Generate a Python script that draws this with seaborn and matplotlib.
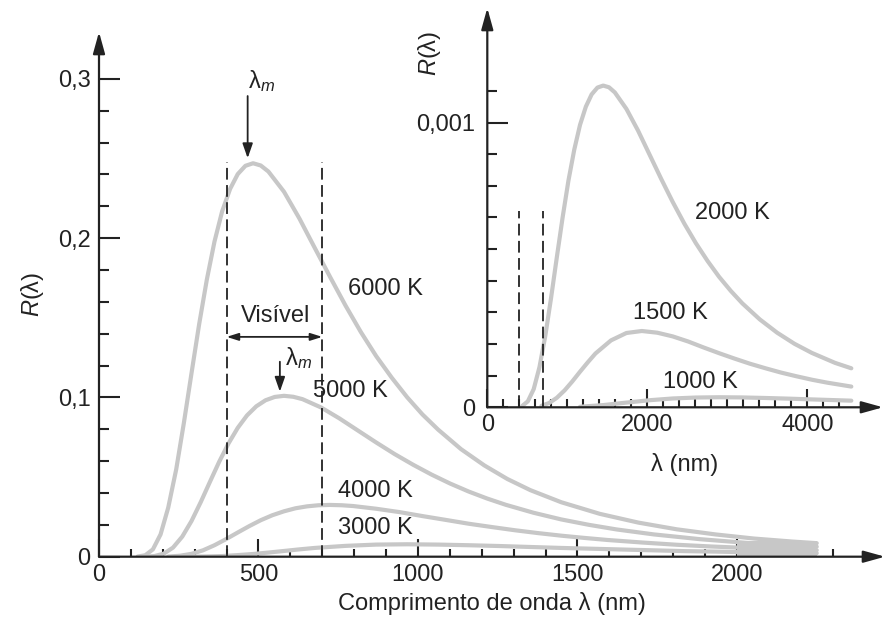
import numpy as np
import pandas as pd
import matplotlib
matplotlib.use("Agg")
import matplotlib.pyplot as plt
import seaborn as sns

# ---------------- data ----------------
# main panel (wavelength in nm, R in arbitrary units)
wl_6000 = [121, 145, 169, 193, 217, 242, 266, 290, 314, 338, 362, 386, 411, 435, 459, 483, 507, 531,
           580, 628, 676, 725, 773, 821, 869, 918, 966, 1014, 1063, 1135, 1208, 1280, 1352, 1449,
           1570, 1691, 1811, 1932, 2053, 2174, 2250]
r_6000 = [0.0001, 0.0009, 0.0046, 0.0140, 0.0308, 0.0548, 0.0839, 0.1152, 0.1460, 0.1739, 0.1978,
          0.2168, 0.2309, 0.2402, 0.2454, 0.2470, 0.2456, 0.2418, 0.2291, 0.2124, 0.1940, 0.1754,
          0.1576, 0.1410, 0.1259, 0.1123, 0.1001, 0.0893, 0.0798, 0.0675, 0.0573, 0.0488, 0.0418,
          0.0342, 0.0269, 0.0214, 0.0172, 0.0140, 0.0114, 0.0095, 0.0085]

wl_5000 = [145, 174, 203, 232, 261, 290, 319, 348, 377, 406, 435, 464, 493, 522, 551, 580, 609, 638,
           696, 753, 811, 869, 927, 985, 1043, 1101, 1159, 1217, 1275, 1362, 1449, 1536, 1623, 1739,
           1884, 2029, 2174, 2250]
r_5000 = [0.00004, 0.0004, 0.0019, 0.0057, 0.0126, 0.0224, 0.0343, 0.0471, 0.0597, 0.0711, 0.0809,
          0.0887, 0.0944, 0.0982, 0.1003, 0.1010, 0.1004, 0.0989, 0.0937, 0.0869, 0.0793, 0.0717,
          0.0644, 0.0577, 0.0515, 0.0459, 0.0409, 0.0365, 0.0326, 0.0276, 0.0234, 0.0200, 0.0171,
          0.0140, 0.0110, 0.0087, 0.0070, 0.0063]

wl_4000 = [217, 254, 290, 326, 362, 398, 435, 471, 507, 543, 580, 616, 652, 688, 724, 761, 797,
           869, 942, 1014, 1087, 1159, 1232, 1304, 1377, 1449, 1521, 1594, 1703, 1811, 1920, 2029, 2250]
r_4000 = [0.0001, 0.0006, 0.0018, 0.0040, 0.0072, 0.0110, 0.0152, 0.0192, 0.0229, 0.0260, 0.0285,
          0.0304, 0.0316, 0.0323, 0.0325, 0.0323, 0.0318, 0.0301, 0.0280, 0.0255, 0.0231, 0.0207,
          0.0186, 0.0166, 0.0148, 0.0132, 0.0118, 0.0105, 0.0089, 0.0075, 0.0064, 0.0055, 0.0041]

wl_3000 = [290, 338, 386, 435, 483, 531, 580, 628, 676, 773, 869, 966, 1063, 1159, 1256, 1352,
           1449, 1546, 1642, 1739, 1835, 1932, 2029, 2125, 2250]
r_3000 = [0.00003, 0.00015, 0.0004, 0.0010, 0.0017, 0.0026, 0.0036, 0.0046, 0.0055, 0.0068, 0.0076,
          0.0078, 0.0076, 0.0072, 0.0067, 0.0061, 0.0055, 0.0050, 0.0045, 0.0040, 0.0035, 0.0032,
          0.0028, 0.0025, 0.0022]

# inset panel
wl_2000 = [435, 507, 580, 652, 725, 797, 869, 942, 1014, 1087, 1159, 1232, 1304, 1377, 1449, 1521,
           1594, 1739, 1884, 2029, 2174, 2318, 2463, 2608, 2753, 2898, 3043, 3188, 3405, 3623, 3840,
           4057, 4347, 4550]
r_2000 = [0.0000043, 0.0000211, 0.0000639, 0.000141, 0.000251, 0.000384, 0.000527, 0.000668,
          0.000796, 0.000905, 0.000992, 0.001056, 0.001099, 0.001123, 0.001130, 0.001124, 0.001106,
          0.001048, 0.000972, 0.000887, 0.000802, 0.000721, 0.000645, 0.000576, 0.000514, 0.000458,
          0.000409, 0.000365, 0.000309, 0.000262, 0.000223, 0.000191, 0.000156, 0.000137]

wl_1500 = [676, 773, 869, 966, 1063, 1159, 1256, 1352, 1546, 1739, 1932, 2125, 2318, 2512, 2705,
           2898, 3091, 3284, 3478, 3671, 3864, 4057, 4250, 4550]
r_1500 = [0.000005, 0.0000151, 0.0000334, 0.0000594, 0.0000910, 0.000125, 0.000158, 0.000189,
          0.000235, 0.000261, 0.000268, 0.000262, 0.000249, 0.000231, 0.000210, 0.000190, 0.000171,
          0.000153, 0.000137, 0.000122, 0.000109, 0.0000969, 0.0000865, 0.0000728]

wl_1000 = [1159, 1449, 1739, 2029, 2318, 2608, 2898, 3188, 3478, 3767, 4057, 4550]
r_1000 = [0.000002, 0.0000078, 0.0000165, 0.0000249, 0.0000310, 0.0000343, 0.0000353, 0.0000346,
          0.0000327, 0.0000304, 0.0000277, 0.0000233]

main_temps = ["6000 K", "5000 K", "4000 K", "3000 K"]
inset_temps = ["2000 K", "1500 K", "1000 K"]

visible_band = [400, 700]          # nm
visible_top_main = 0.248
visible_top_inset = 0.00069
gray_box_x = [2000, 2250]
gray_box_top = 0.010

main_xticks = [0, 500, 1000, 1500, 2000]
main_xticklabels = ["0", "500", "1000", "1500", "2000"]
main_xminor = [v for v in range(100, 2400, 100) if v % 500 != 0]
main_yticks = [0, 0.1, 0.2, 0.3]
main_yticklabels = ["0", "0,1", "0,2", "0,3"]
main_yminor = [0.02, 0.04, 0.06, 0.08, 0.12, 0.14, 0.16, 0.18, 0.22, 0.24, 0.26, 0.28]

inset_xticks = [0, 2000, 4000]
inset_xticklabels = ["0", "2000", "4000"]
inset_xminor = [v for v in range(200, 4600, 200) if v % 2000 != 0]
inset_yticks = [0, 0.001]
inset_yticklabels = ["0", "0,001"]
inset_yminor = [k * 0.001 / 9 for k in range(1, 11) if k != 9]

# ---------------- styling ----------------
sns.set_theme(style="white")
plt.rcParams['font.family'] = ['Liberation Sans', 'DejaVu Sans']
plt.rcParams['mathtext.fontset'] = 'custom'
plt.rcParams['mathtext.rm'] = 'Liberation Sans'
plt.rcParams['mathtext.it'] = 'Liberation Sans:italic'

CURVE = '#c7c7c7'
INK = '#222222'
FS = 17

W, H = 895, 627
fig = plt.figure(figsize=(W / 100, H / 100), dpi=100)
fig.patch.set_facecolor('white')


def long_df(wls, rs, names):
    frames = []
    for w, r, n in zip(wls, rs, names):
        frames.append(pd.DataFrame({"wl": w, "R": r, "T": n}))
    return pd.concat(frames, ignore_index=True)


df_main = long_df([wl_6000, wl_5000, wl_4000, wl_3000],
                  [r_6000, r_5000, r_4000, r_3000], main_temps)
df_inset = long_df([wl_2000, wl_1500, wl_1000],
                   [r_2000, r_1500, r_1000], inset_temps)


def style_axes(ax, xt, xtl, xmin, yt, ytl, ymin, xpad, ypad):
    for s in ax.spines.values():
        s.set_visible(False)
    ax.set_facecolor('none')
    ax.set_xticks(xt)
    ax.set_xticklabels(xtl)
    ax.set_xticks(xmin, minor=True)
    ax.set_yticks(yt)
    ax.set_yticklabels(ytl)
    ax.set_yticks(ymin, minor=True)
    ax.tick_params(axis='both', which='both', direction='in', color=INK,
                   bottom=True, left=True, top=False, right=False, labelcolor=INK,
                   labelsize=FS, width=1.5)
    ax.tick_params(axis='x', which='major', length=13, pad=xpad)
    ax.tick_params(axis='x', which='minor', length=6)
    ax.tick_params(axis='y', which='major', length=15, pad=ypad)
    ax.tick_params(axis='y', which='minor', length=7.5)
    ax.set_xlabel("")
    ax.set_ylabel("")
    arrow = dict(arrowstyle='-|>,head_length=0.65,head_width=0.18', mutation_scale=20,
                 color=INK, lw=1.6, shrinkA=0, shrinkB=0)
    ax.annotate('', xy=(1, 0), xytext=(0, 0), xycoords='axes fraction',
                textcoords='axes fraction', arrowprops=arrow, annotation_clip=False, zorder=5)
    ax.annotate('', xy=(0, 1), xytext=(0, 0), xycoords='axes fraction',
                textcoords='axes fraction', arrowprops=arrow, annotation_clip=False, zorder=5)


# ---------------- main panel ----------------
ax = fig.add_axes([99 / W, 1 - 556.7 / H, 786 / W, 524.7 / H])
ax.set_xlim(0, 2464)
ax.set_ylim(0, 0.3294)

ax.fill_between(gray_box_x, 0, gray_box_top, color=CURVE, lw=0, zorder=1.5)
sns.lineplot(data=df_main, x="wl", y="R", units="T", estimator=None, sort=False,
             color=CURVE, lw=3, ax=ax, legend=False, zorder=2)
ax.vlines(visible_band, 0, visible_top_main, colors=INK, lw=1.3,
          linestyles=(0, (6.5, 3)), zorder=3)
style_axes(ax, main_xticks, main_xticklabels, main_xminor,
           main_yticks, main_yticklabels, main_yminor, xpad=5, ypad=6)

ax.text(0.5, -0.090, "Comprimento de onda λ (nm)", transform=ax.transAxes,
        ha='center', va='center', fontsize=FS, color=INK)
ax.text(-0.084, 0.499, r"$\mathit{R}$(λ)", transform=ax.transAxes, rotation=90,
        ha='center', va='center', fontsize=FS, color=INK)

ax.text(897, 0.168, main_temps[0], ha='center', va='center', fontsize=FS, color=INK)
ax.text(787, 0.104, main_temps[1], ha='center', va='center', fontsize=FS, color=INK)
ax.text(865, 0.0413, main_temps[2], ha='center', va='center', fontsize=FS, color=INK)
ax.text(865, 0.0180, main_temps[3], ha='center', va='center', fontsize=FS, color=INK)

ax.text(555, 0.1511, "Visível", ha='center', va='center', fontsize=FS, color=INK)
ax.annotate('', xy=(visible_band[1], 0.138), xytext=(visible_band[0], 0.138),
            arrowprops=dict(arrowstyle='<|-|>,head_length=0.7,head_width=0.22',
                            mutation_scale=10, color=INK, lw=1.3, shrinkA=0, shrinkB=0))

lam_m = r"$\mathrm{\lambda}_{\mathit{m}}$"
ax.text(511, 0.2985, lam_m, ha='center', va='center', fontsize=FS, color=INK)
ax.annotate('', xy=(466, 0.2502), xytext=(466, 0.2892),
            arrowprops=dict(arrowstyle='-|>,head_length=0.8,head_width=0.28',
                            mutation_scale=11, color=INK, lw=1.3, shrinkA=0, shrinkB=0))
ax.text(627, 0.1247, lam_m, ha='center', va='center', fontsize=FS, color=INK)
ax.annotate('', xy=(567, 0.1036), xytext=(567, 0.1224),
            arrowprops=dict(arrowstyle='-|>,head_length=0.8,head_width=0.28',
                            mutation_scale=11, color=INK, lw=1.3, shrinkA=0, shrinkB=0))

# ---------------- inset panel ----------------
ai = fig.add_axes([487.3 / W, 1 - 407.3 / H, 395.7 / W, 399.3 / H])
ai.set_xlim(0, 4946)
ai.set_ylim(0, 0.0014025)
sns.lineplot(data=df_inset, x="wl", y="R", units="T", estimator=None, sort=False,
             color=CURVE, lw=3, ax=ai, legend=False, zorder=2)
ai.vlines(visible_band, 0, visible_top_inset, colors=INK, lw=1.3,
          linestyles=(0, (6.5, 3)), zorder=3)
style_axes(ai, inset_xticks, inset_xticklabels, inset_xminor,
           inset_yticks, inset_yticklabels, inset_yminor, xpad=4.5, ypad=8.5)
ai.text(0.4996, -0.142, "λ (nm)", transform=ai.transAxes, ha='center', va='center',
        fontsize=FS, color=INK)
ai.text(-0.147, 0.887, r"$\mathit{R}$(λ)", transform=ai.transAxes, rotation=90,
        ha='center', va='center', fontsize=FS, color=INK)
ai.text(3059, 0.000683, inset_temps[0], ha='center', va='center', fontsize=FS, color=INK)
ai.text(2284, 0.000331, inset_temps[1], ha='center', va='center', fontsize=FS, color=INK)
ai.text(2659, 0.0000889, inset_temps[2], ha='center', va='center', fontsize=FS, color=INK)

fig.savefig("out.png", dpi=100)
